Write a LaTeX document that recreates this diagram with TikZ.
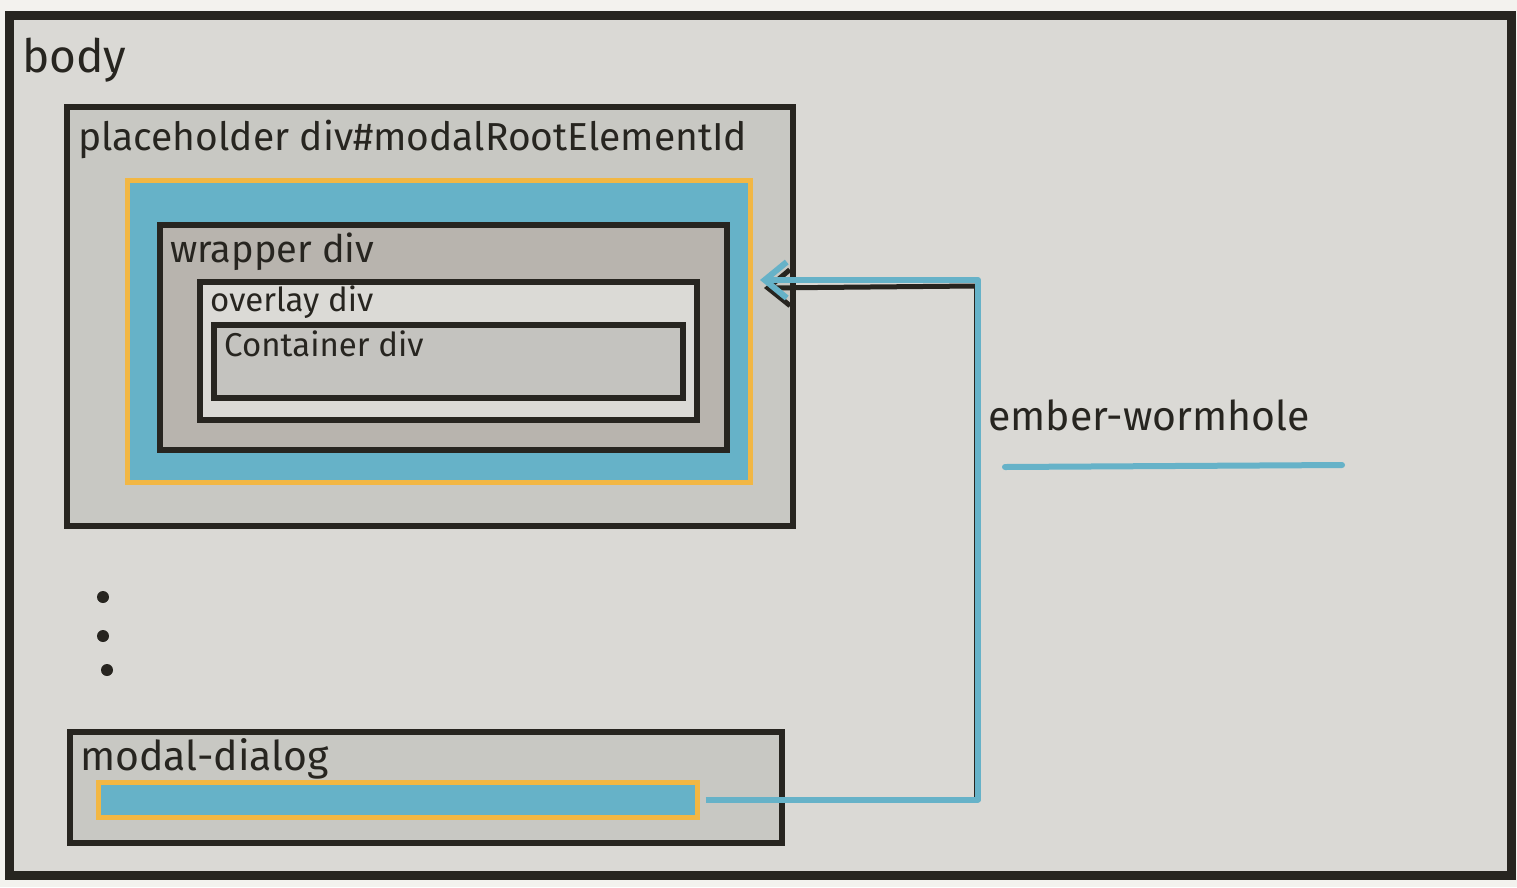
\documentclass[tikz,border=0pt]{standalone}
\usepackage{fontspec}
\setmainfont{Fira Sans}
\usetikzlibrary{arrows.meta, positioning, calc}
\definecolor{inkdark}{RGB}{39,37,32}
\definecolor{paper}{RGB}{243,242,238}
\definecolor{bodygray}{RGB}{218,217,213}
\definecolor{boxgray}{RGB}{200,200,195}
\definecolor{wrapgray}{RGB}{184,180,174}
\definecolor{overlaygray}{RGB}{219,218,214}
\definecolor{contgray}{RGB}{196,195,191}
\definecolor{wormblue}{RGB}{102,178,200}
\definecolor{wormyellow}{RGB}{242,183,68}

\begin{document}
\begin{tikzpicture}[x=1pt, y=-1pt,
    frame/.style={rectangle, draw=inkdark, line width=6pt, inner sep=0pt},
    portal/.style={rectangle, draw=wormyellow, fill=wormblue, line width=5pt, inner sep=0pt},
    tag/.style={anchor=base west, inner sep=0pt, text=inkdark},
    wire/.style={draw=wormblue, line width=6pt, line join=round},
    inkwire/.style={draw=inkdark, line width=5pt}
]
% paper and page size
\fill[paper] (0,0) rectangle (1517,887);
\useasboundingbox (0,0) rectangle (1517,887);

% boxes, outside in
\node[frame, line width=9pt, fill=bodygray, minimum width=1502pt, minimum height=860pt] (body) at (760,445) {};
\node[frame, fill=boxgray, minimum width=726pt, minimum height=419pt] (placeholder) at (430,316.5) {};
\node[portal, minimum width=623pt, minimum height=302pt] (portal) at (438.5,331) {};
\node[frame, fill=wrapgray, minimum width=567pt, minimum height=225pt] (wrapper) at (443.5,337.5) {};
\node[frame, fill=overlaygray, minimum width=497pt, minimum height=138pt] (overlay) at (448.5,351) {};
\node[frame, fill=contgray, minimum width=469pt, minimum height=73pt] (container) at (448.5,361.5) {};
\node[frame, fill=boxgray, minimum width=712pt, minimum height=111pt] (dialog) at (426,787.5) {};
\node[portal, minimum width=599pt, minimum height=35pt] (bar) at (397.5,799.5) {};

% labels
\node[tag, font=\fontsize{46}{50}\selectfont] (bodylbl) at (22,72) {body};
\node[tag, font=\fontsize{39}{43}\selectfont] (placelbl) at (78,150) {placeholder div\#modalRootElementId};
\node[tag, font=\fontsize{38}{42}\selectfont] (wraplbl) at (170,262) {wrapper div};
\node[tag, font=\fontsize{33}{37}\selectfont] (overlbl) at (210,311) {overlay div};
\node[tag, font=\fontsize{33}{37}\selectfont] (contlbl) at (224,356) {Container div};
\node[tag, font=\fontsize{41}{45}\selectfont] (dialoglbl) at (80,770) {modal-dialog};
\node[tag, font=\fontsize{41}{45}\selectfont] (wormlbl) at (988,430) {ember-wormhole};
\draw[wire, line width=6pt, line cap=round] (1005,467) -- (1342,465);

% more elements
\foreach \px/\py in {103/597, 103/636, 107/670}
  \fill[inkdark] (\px,\py) circle (6);

% the wormhole
\coordinate (arrowtip) at (760,280);
\coordinate (hinge) at (978,280);
\draw[inkwire, line width=2.5pt] ($(hinge)+(-3,6)$) -- ($(bar.east -| hinge)+(-3,0)$);
\draw[inkwire, -{Straight Barb[length=22pt, width=36pt]}] ($(hinge)+(-3,6)$) -- ($(arrowtip)+(4,8)$);
\draw[wire, -{Straight Barb[length=22pt, width=36pt]}] (bar.east) ++(6,0) -| (hinge) -- (arrowtip);
\end{tikzpicture}
\end{document}
